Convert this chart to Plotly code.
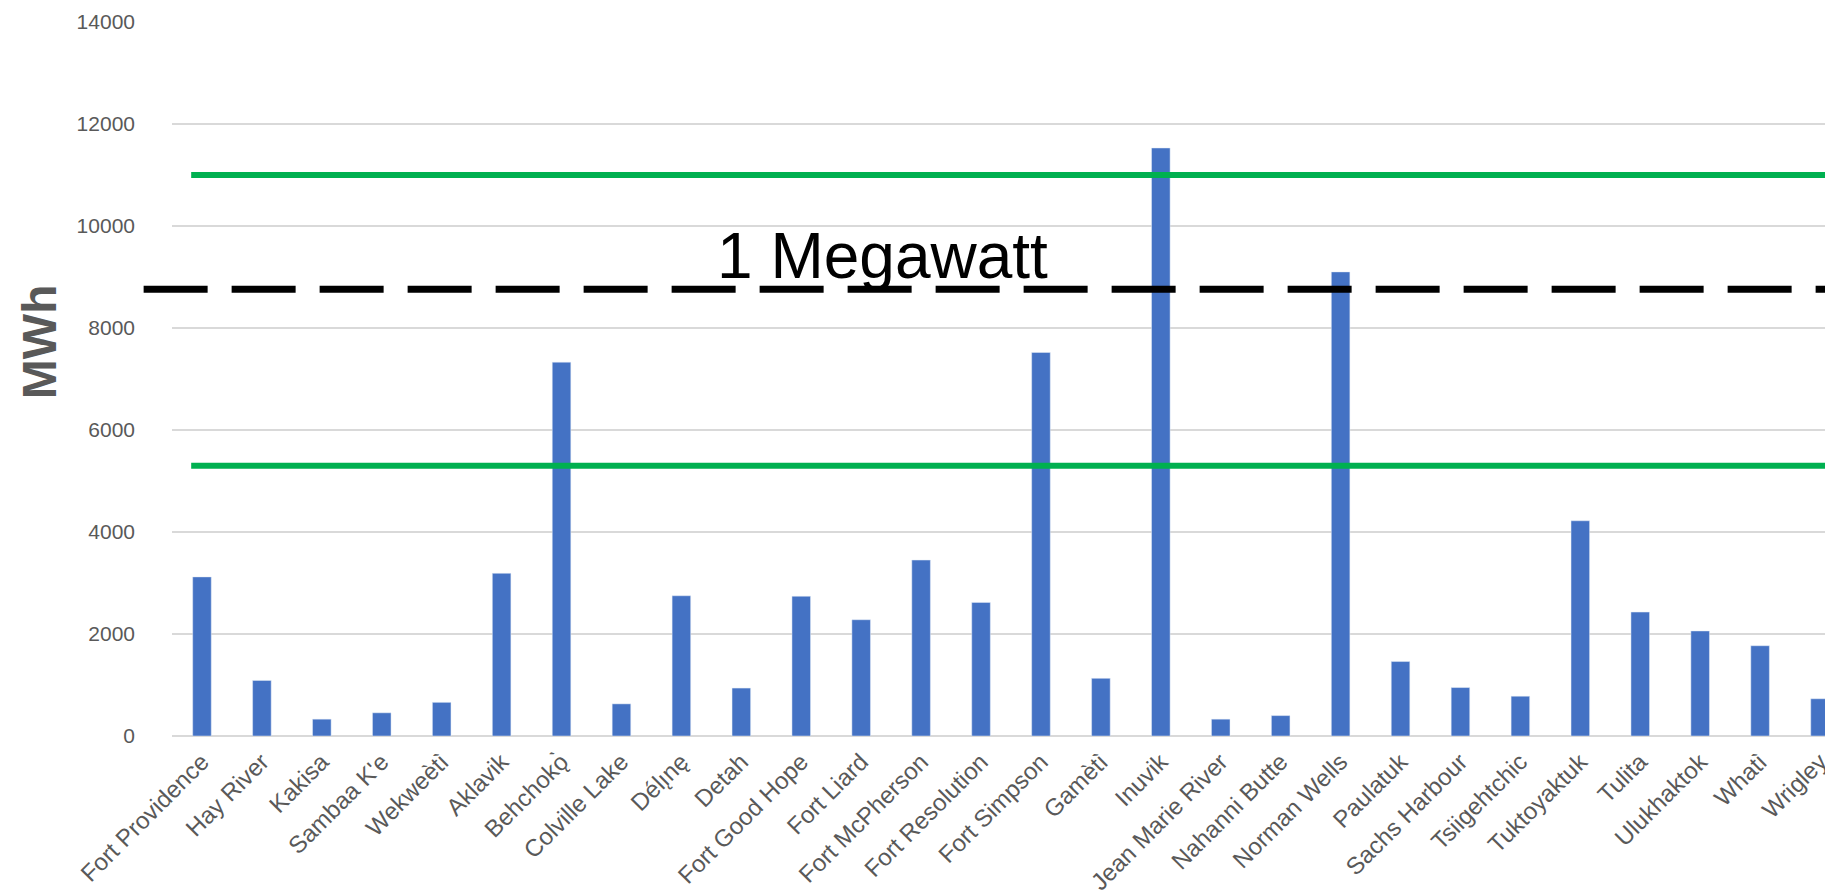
import plotly.graph_objects as go

# Community annual load (MWh)
communities = [
    "Fort Providence", "Hay River", "Kakisa", "Sambaa K'e", "Wekweètì",
    "Aklavik", "Behchokǫ̀", "Colville Lake", "Délı̨nę", "Detah",
    "Fort Good Hope", "Fort Liard", "Fort McPherson", "Fort Resolution",
    "Fort Simpson", "Gamètì", "Inuvik", "Jean Marie River", "Nahanni Butte",
    "Norman Wells", "Paulatuk", "Sachs Harbour", "Tsiigehtchic",
    "Tuktoyaktuk", "Tulita", "Ulukhaktok", "Whatì", "Wrigley",
]
mwh = [
    3120, 1090, 330, 455, 660,
    3190, 7330, 630, 2750, 940,
    2740, 2280, 3450, 2620,
    7520, 1130, 11530, 330, 400,
    9100, 1460, 950, 780,
    4220, 2430, 2060, 1770, 730,
]

# Reference levels (MWh)
megawatt_line = 8760
green_levels = [11000, 5300]
y_ticks = [0, 2000, 4000, 6000, 8000, 10000, 12000, 14000]

grey = "#595959"

fig = go.Figure(
    go.Bar(
        x=communities,
        y=mwh,
        marker_color="#4472C4",
        showlegend=False,
    )
)

for lvl in green_levels:
    fig.add_shape(
        type="line", xref="x", yref="y",
        x0=-0.18, x1=40, y0=lvl, y1=lvl,
        line=dict(color="#00B050", width=6),
    )

fig.add_shape(
    type="line", xref="paper", yref="y",
    x0=-0.017, x1=1.0, y0=megawatt_line, y1=megawatt_line,
    line=dict(color="black", width=7, dash="64px,24px"),
)

fig.add_annotation(
    text="1 Megawatt", xref="x", yref="y",
    x=11.35, y=megawatt_line, yanchor="bottom", yshift=-5,
    showarrow=False,
    font=dict(family="Liberation Sans, Arial", size=64, color="black"),
)

fig.add_annotation(
    text="<b>MWh</b>", xref="paper", yref="paper",
    x=-0.0797, y=0.553, xanchor="center", yanchor="middle",
    textangle=-90, showarrow=False,
    font=dict(family="Liberation Sans, Arial", size=48, color=grey),
)

fig.update_layout(
    width=1833,
    height=895,
    margin=dict(l=164, r=0, t=14, b=167),
    plot_bgcolor="white",
    paper_bgcolor="white",
    bargap=0.69,
    font=dict(family="Liberation Sans, Arial", color=grey),
)

fig.update_xaxes(
    range=[-0.5, 27.35],
    tickangle=-45,
    tickfont=dict(size=24, color=grey),
    ticklabelstandoff=6,
    showgrid=False,
    showline=False,
    ticks="",
)

fig.update_yaxes(
    range=[0, 14000],
    tickvals=y_ticks,
    tickformat="d",
    tickfont=dict(size=21, color=grey),
    showgrid=True,
    gridcolor="#D9D9D9",
    gridwidth=2,
    zeroline=True,
    zerolinecolor="#D9D9D9",
    zerolinewidth=2,
    ticklabelstandoff=36,
)

fig.write_html("out.html")
